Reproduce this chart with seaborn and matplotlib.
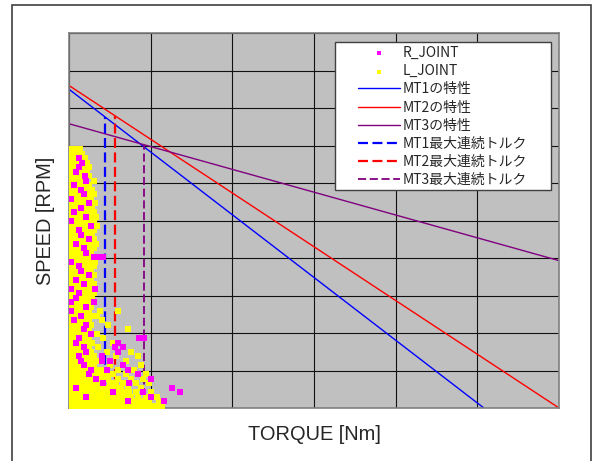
import matplotlib
matplotlib.use("Agg")
import matplotlib.pyplot as plt
from matplotlib.patches import Rectangle
import seaborn as sns

# motor curves (torque [Nm] -> speed [rpm]), end points
MT1_TORQUE = [0.0, 2.54]
MT1_SPEED = [4250, 0]
MT2_TORQUE = [0.0, 3.0]
MT2_SPEED = [4300, 0]
MT3_TORQUE = [0.0, 3.0]
MT3_SPEED = [3790, 1965]

# max continuous torque of each motor and the speed where it meets its curve
MAX_TORQUE = [0.22, 0.28, 0.46]
MAX_TORQUE_SPEED = [3880, 3900, 3510]

# measured joint samples, one entry per speed row: (speed, [torques])
L_JOINT_ROWS = [
    (3450, [0.005, 0.035, 0.065]),
    (3390, [0.015, 0.045, 0.08]),
    (3330, [0.0, 0.03, 0.1]),
    (3270, [0.015, 0.045, 0.11]),
    (3210, [0.0, 0.03, 0.09, 0.12]),
    (3150, [0.015, 0.08, 0.11]),
    (3090, [0.0, 0.03, 0.06, 0.125]),
    (3030, [0.015, 0.045, 0.075, 0.15]),
    (2970, [0.0, 0.06, 0.09, 0.12]),
    (2910, [0.015, 0.045, 0.105, 0.14]),
    (2850, [0.0, 0.03, 0.06, 0.12, 0.15]),
    (2790, [0.045, 0.075, 0.105, 0.135]),
    (2730, [0.0, 0.03, 0.06, 0.09, 0.16]),
    (2670, [0.015, 0.045, 0.105, 0.14]),
    (2610, [0.0, 0.06, 0.09, 0.12, 0.155]),
    (2550, [0.015, 0.045, 0.075, 0.135, 0.165]),
    (2490, [0.03, 0.06, 0.09, 0.12, 0.15]),
    (2430, [0.015, 0.045, 0.075, 0.105, 0.17]),
    (2370, [0.0, 0.03, 0.09, 0.12, 0.155]),
    (2310, [0.015, 0.045, 0.105, 0.14]),
    (2250, [0.0, 0.03, 0.06, 0.09, 0.15]),
    (2190, [0.015, 0.075, 0.105, 0.135, 0.165]),
    (2130, [0.0, 0.03, 0.06, 0.12, 0.15]),
    (2070, [0.015, 0.045, 0.075, 0.135]),
    (2010, [0.0, 0.03, 0.06, 0.09, 0.12]),
    (1950, [0.045, 0.075, 0.105, 0.135, 0.16]),
    (1890, [0.0, 0.03, 0.09, 0.12, 0.15]),
    (1830, [0.015, 0.045, 0.105, 0.135]),
    (1770, [0.0, 0.03, 0.06, 0.09, 0.15]),
    (1710, [0.015, 0.075, 0.105, 0.135]),
    (1650, [0.0, 0.03, 0.06, 0.12, 0.15]),
    (1590, [0.045, 0.075, 0.105, 0.135]),
    (1530, [0.0, 0.03, 0.09, 0.12, 0.15]),
    (1470, [0.015, 0.075, 0.105, 0.14]),
    (1410, [0.03, 0.06, 0.09, 0.12]),
    (1350, [0.015, 0.045, 0.075, 0.135]),
    (1290, [0.03, 0.06, 0.09, 0.12, 0.19, 0.3]),
    (1230, [0.015, 0.045, 0.105, 0.135, 0.17]),
    (1170, [0.0, 0.06, 0.09, 0.12, 0.2]),
    (1110, [0.015, 0.045, 0.075, 0.135, 0.24]),
    (1050, [0.0, 0.03, 0.06, 0.12, 0.36]),
    (990, [0.015, 0.045, 0.075, 0.105, 0.17]),
    (930, [0.0, 0.03, 0.09, 0.12, 0.21]),
    (870, [0.015, 0.075, 0.105, 0.14, 0.27]),
    (810, [0.0, 0.03, 0.06, 0.12, 0.18]),
    (750, [0.015, 0.045, 0.075, 0.135, 0.23, 0.38]),
    (690, [0.0, 0.03, 0.09, 0.12, 0.15, 0.29, 0.42]),
    (630, [0.015, 0.045, 0.105, 0.135, 0.165, 0.35]),
    (570, [0.0, 0.03, 0.06, 0.12, 0.15, 0.25, 0.44]),
    (510, [0.015, 0.045, 0.075, 0.105, 0.165, 0.195, 0.3, 0.4]),
    (450, [0.0, 0.03, 0.06, 0.09, 0.15, 0.18, 0.21, 0.24, 0.27, 0.35, 0.47]),
    (390, [0.015, 0.045, 0.075, 0.105, 0.135, 0.2, 0.24, 0.3, 0.38, 0.45]),
    (330, [0.0, 0.03, 0.06, 0.09, 0.12, 0.15, 0.18, 0.25, 0.29, 0.33, 0.41, 0.49]),
    (270, [0.015, 0.075, 0.105, 0.135, 0.165, 0.195, 0.225, 0.255, 0.29, 0.32, 0.36, 0.44]),
    (210, [0.0, 0.03, 0.06, 0.09, 0.12, 0.15, 0.18, 0.21, 0.24, 0.3, 0.33, 0.37,
           0.41, 0.5]),
    (150, [0.015, 0.045, 0.075, 0.135, 0.165, 0.195, 0.225, 0.255, 0.285, 0.315,
           0.345, 0.38, 0.42, 0.47, 0.54]),
    (90, [0.0, 0.03, 0.06, 0.09, 0.12, 0.15, 0.18, 0.21, 0.24, 0.27, 0.3, 0.33,
          0.39, 0.42, 0.45, 0.49, 0.55]),
    (30, [0.015, 0.045, 0.075, 0.105, 0.135, 0.165, 0.195, 0.225, 0.255, 0.285, 0.315,
          0.345, 0.375, 0.405, 0.435, 0.465, 0.5, 0.53, 0.57]),
]

R_JOINT_ROWS = [
    (3330, [0.06]),
    (3270, [0.08]),
    (3210, [0.06]),
    (3150, [0.045]),
    (3090, [0.095]),
    (3030, [0.105]),
    (2970, [0.03]),
    (2910, [0.075]),
    (2850, [0.09]),
    (2790, [0.015]),
    (2730, [0.12]),
    (2670, [0.075]),
    (2610, [0.03]),
    (2550, [0.105]),
    (2490, [0.01]),
    (2430, [0.135]),
    (2370, [0.06]),
    (2310, [0.075]),
    (2250, [0.12]),
    (2190, [0.045]),
    (2130, [0.09]),
    (2070, [0.105]),
    (2010, [0.15, 0.18, 0.21]),
    (1950, [0.015]),
    (1890, [0.06]),
    (1830, [0.075]),
    (1770, [0.12]),
    (1710, [0.045]),
    (1650, [0.09]),
    (1590, [0.015, 0.16]),
    (1530, [0.06]),
    (1470, [0.045]),
    (1410, [0.01, 0.15]),
    (1350, [0.105]),
    (1290, [0.01]),
    (1230, [0.075]),
    (1170, [0.03]),
    (1110, [0.105]),
    (1050, [0.09]),
    (990, [0.135]),
    (930, [0.06, 0.43, 0.46]),
    (870, [0.045, 0.3]),
    (810, [0.09, 0.28, 0.33]),
    (750, [0.105, 0.3]),
    (690, [0.06, 0.2]),
    (630, [0.075, 0.2, 0.25]),
    (570, [0.09, 0.33]),
    (510, [0.135, 0.23, 0.36]),
    (450, [0.12, 0.42]),
    (390, [0.165, 0.5]),
    (330, [0.21, 0.37]),
    (270, [0.045, 0.63]),
    (210, [0.27, 0.45, 0.68]),
    (150, [0.105, 0.5]),
    (90, [0.36, 0.58]),
]


def flatten(rows):
    xs, ys = [], []
    for speed, torques in rows:
        for t in torques:
            xs.append(t)
            ys.append(speed)
    return xs, ys


sns.set_style("white")
plt.rcParams["font.family"] = ["Noto Sans CJK JP", "DejaVu Sans"]

fig = plt.figure(figsize=(5.92, 4.61), dpi=100)
ax = fig.add_axes([69 / 592, 53 / 461, 490 / 592, 375 / 461])
ax.set_facecolor("#C0C0C0")

r_x, r_y = flatten(R_JOINT_ROWS)
l_x, l_y = flatten(L_JOINT_ROWS)
sns.scatterplot(x=r_x, y=r_y, ax=ax, color="#FF00FF", marker="s", s=17,
                linewidth=0, label="R_JOINT", zorder=4.5)
sns.scatterplot(x=l_x, y=l_y, ax=ax, color="#FFFF00", marker="s", s=17,
                linewidth=0, label="L_JOINT", zorder=4)

curve_colors = ["#0000FF", "#FF0000", "#800080"]
curves = [(MT1_TORQUE, MT1_SPEED), (MT2_TORQUE, MT2_SPEED), (MT3_TORQUE, MT3_SPEED)]
for i, (tq, sp) in enumerate(curves):
    sns.lineplot(x=tq, y=sp, ax=ax, color=curve_colors[i], lw=1.0, sort=False,
                 estimator=None, label=f"MT{i + 1}の特性", zorder=2)

dash_widths = [1.6, 1.6, 1.3]
for i, tq in enumerate(MAX_TORQUE):
    ax.plot([tq, tq], [0, MAX_TORQUE_SPEED[i]], color=curve_colors[i],
            lw=dash_widths[i], linestyle=(0, (4.5, 2.0)), zorder=3,
            label=f"MT{i + 1}最大連続トルク")

ax.set_xlim(0, 3.0)
ax.set_ylim(0, 5000)
ax.set_xticks([0, 0.5, 1.0, 1.5, 2.0, 2.5, 3.0])
ax.set_yticks(range(0, 5001, 500))
ax.tick_params(length=0, labelbottom=False, labelleft=False)
ax.grid(True, color="#111111", lw=0.8, zorder=1)
ax.set_axisbelow(True)
for sp in ax.spines.values():
    sp.set_color("#808080")
    sp.set_linewidth(1.2)

ax.set_xlabel("TORQUE [Nm]", fontsize=14.4, family="Liberation Sans")
ax.set_ylabel("SPEED [RPM]", fontsize=14.4, family="Liberation Sans")
ax.xaxis.set_label_coords(0.5, -0.045)
ax.yaxis.set_label_coords(-0.028, 0.5)

# legend: white box drawn separately so the padding matches the original
handles, labels = ax.get_legend_handles_labels()
order = ["R_JOINT", "L_JOINT", "MT1の特性", "MT2の特性", "MT3の特性",
         "MT1最大連続トルク", "MT2最大連続トルク", "MT3最大連続トルク"]
hmap = dict(zip(labels, handles))
box = Rectangle((335 / 592, 1 - 190 / 461), 216 / 592, 148 / 461,
                transform=fig.transFigure, facecolor="white", edgecolor="#404040",
                lw=1.0, zorder=4.9, clip_on=False)
ax.add_patch(box)
leg = ax.legend([hmap[k] for k in order], order, loc="upper left",
                bbox_to_anchor=(358 / 592, 1 - 46 / 461), bbox_transform=fig.transFigure,
                frameon=False, fontsize=10, borderpad=0, borderaxespad=0,
                handlelength=3.0, handletextpad=0.22, labelspacing=0.3,
                markerscale=0.55)
leg.set_zorder(5)

# outer chart border
fig.patches.append(Rectangle((12 / 592, -0.05), 579 / 592, 1 - 5 / 461 + 0.05,
                             transform=fig.transFigure, fill=False,
                             edgecolor="#404040", lw=1.2))

fig.savefig("out.png", dpi=100)
